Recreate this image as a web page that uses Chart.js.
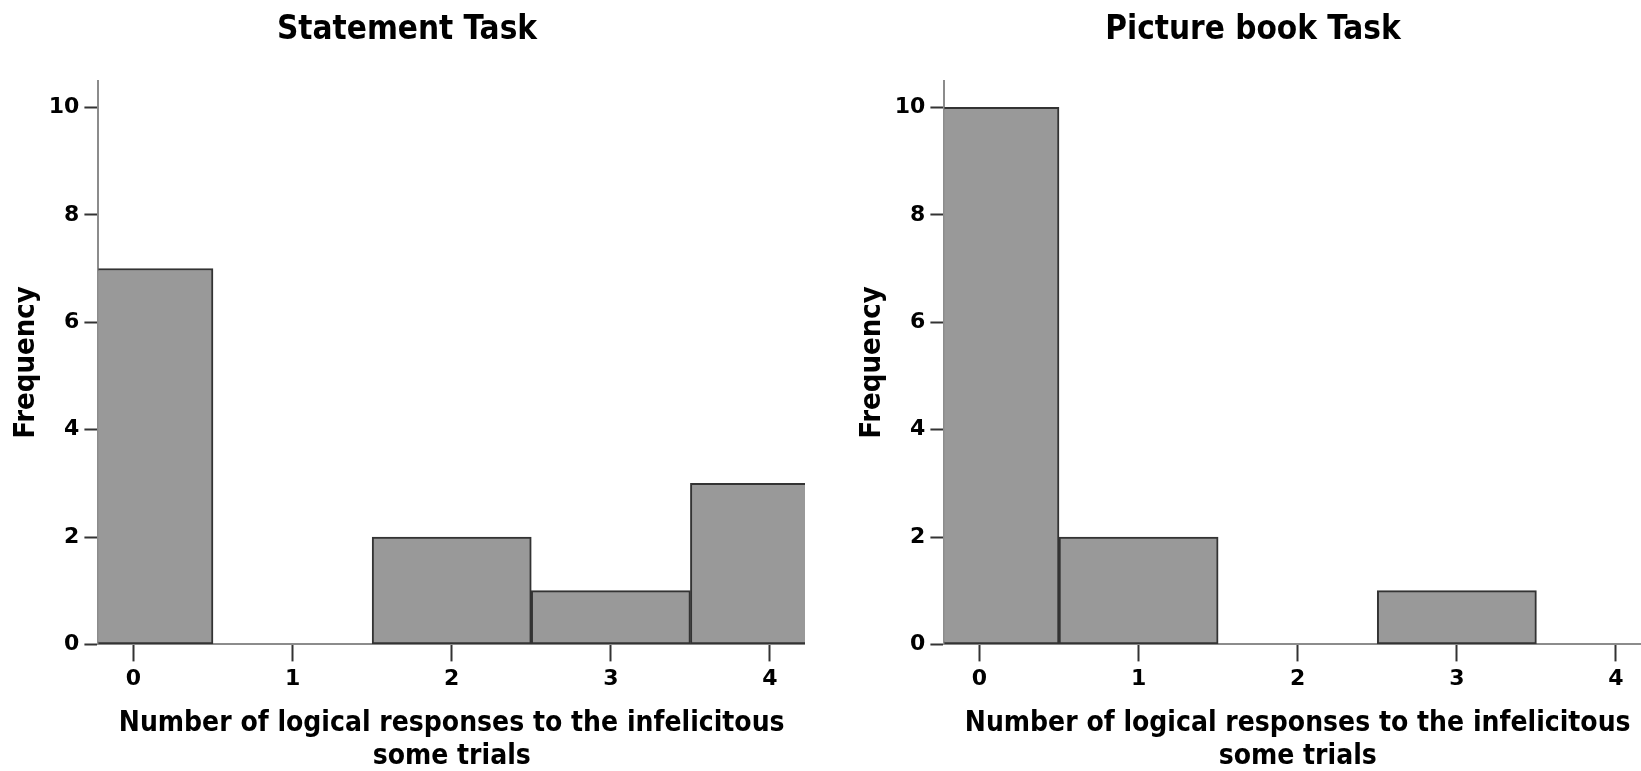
<!DOCTYPE html>
<html>
<head>
<meta charset="utf-8">
<script src="https://cdn.jsdelivr.net/npm/chart.js@4"></script>
<style>
html, body { margin: 0; padding: 0; background: #fff; overflow: hidden; width: 1641px; height: 771px; }
.panel { position: absolute; top: 0; }
</style>
</head>
<body>
<div class="panel" style="left:0px"><canvas id="statementChart" width="805" height="771"></canvas></div>
<div class="panel" style="left:846px"><canvas id="pictureChart" width="805" height="771"></canvas></div>
<script>
// histogram data
var responses     = [0, 1, 2, 3, 4];
var statementFreq = [7, 0, 2, 1, 3];
var pictureFreq   = [10, 2, 0, 1, 0];
var freqTicks     = [0, 2, 4, 6, 8, 10];
var xTitle        = ['Number of logical responses to the infelicitous', 'some trials'];
var yTitle        = 'Frequency';

var condensed = '"DejaVu Sans Condensed", "DejaVu Sans", sans-serif';

function makeHistogram(id, title, freqs){

	var ctx = document.getElementById(id).getContext('2d');

	// empty bins are simply not drawn
	var points = responses.map(function(r, i){
		return { x: r, y: freqs[i] === 0 ? null : freqs[i] };
	});

	return new Chart(ctx, {
		type: 'bar',
		data: {
			datasets: [{
				data: points,
				backgroundColor: '#999999',
				borderColor: '#333333',
				borderWidth: 2,
				borderSkipped: false,
				barPercentage: 1,
				categoryPercentage: 1
			}]
		},
		options: {
			responsive: false,
			animation: false,
			devicePixelRatio: 1,
			layout: { padding: { left: 9, right: 0, top: 0, bottom: -3 } },
			plugins: {
				legend: { display: false },
				tooltip: { enabled: false },
				title: {
					display: true,
					text: title,
					color: '#000',
					font: { family: condensed, size: 33, weight: 'bold' },
					padding: { top: 11, bottom: 30 }
				}
			},
			scales: {
				x: {
					type: 'linear',
					min: -0.22,
					max: 4.22,
					offset: false,
					grid: { offset: false, drawOnChartArea: false, drawTicks: true, tickLength: 17, tickColor: '#333', tickWidth: 2 },
					border: { display: true, color: '#8c8c8c', width: 2 },
					ticks: {
						stepSize: 1,
						includeBounds: false,
						color: '#000',
						padding: 5,
						font: { family: '"DejaVu Sans", sans-serif', size: 22, weight: 'bold' }
					},
					title: {
						display: true,
						text: xTitle,
						color: '#000',
						font: { family: condensed, size: 28, weight: 'bold', lineHeight: 1.2 },
						padding: { top: 9, bottom: 0 }
					}
				},
				y: {
					min: 0,
					max: 10.5,
					grid: { drawOnChartArea: false, drawTicks: true, tickLength: 14, tickColor: '#333', tickWidth: 2 },
					border: { display: true, color: '#8c8c8c', width: 2 },
					afterBuildTicks: function(axis){
						axis.ticks = freqTicks.map(function(v){ return { value: v }; });
					},
					ticks: {
						color: '#000',
						padding: 5,
						font: { family: '"DejaVu Sans", sans-serif', size: 22, weight: 'bold' }
					},
					title: {
						display: true,
						text: yTitle,
						color: '#000',
						font: { family: condensed, size: 29, weight: 'bold' },
						padding: { top: 0, bottom: 0 }
					}
				}
			}
		}
	});
}

var statementChart = makeHistogram('statementChart', 'Statement Task', statementFreq);
var pictureChart   = makeHistogram('pictureChart', 'Picture book Task', pictureFreq);
</script>
</body>
</html>
